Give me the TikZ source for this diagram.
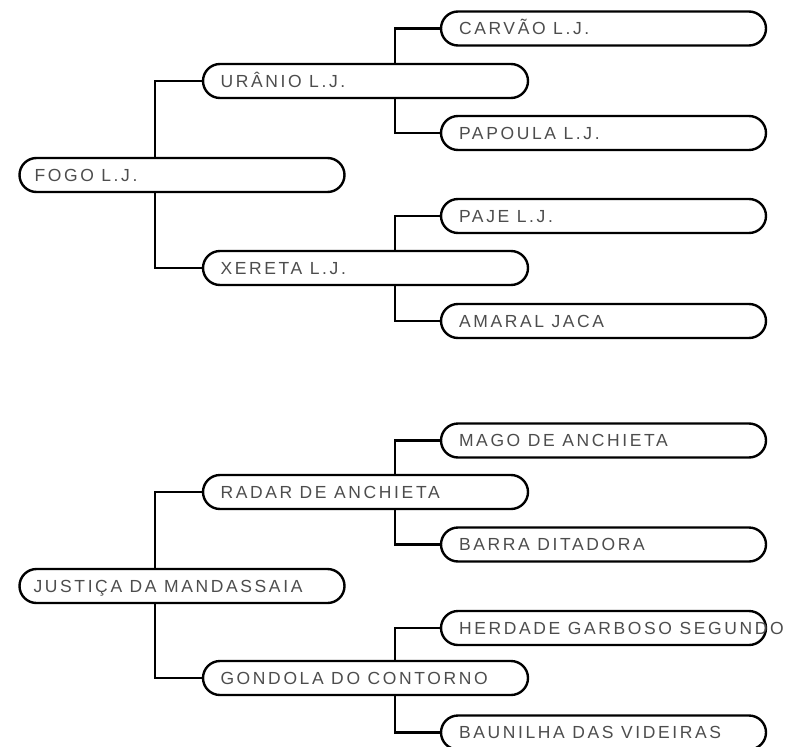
\documentclass[tikz,border=0pt]{standalone}
\usepackage{fontspec}
\newfontfamily\lblfont{Liberation Sans}[LetterSpace=15]
\definecolor{txtgray}{HTML}{4D4D4D}
\begin{document}
\begin{tikzpicture}[x=1pt,y=-1pt,
  pbox/.style={draw=black, line width=2.4pt, rectangle, rounded corners=17pt,
    minimum width=325pt, minimum height=34pt, inner sep=0pt, fill=white},
  lbl/.style={anchor=base west, inner sep=0pt, text=txtgray,
    font=\lblfont\fontsize{17.5}{21}\selectfont},
  conn/.style={draw=black, line width=2.4pt}]
\useasboundingbox (0,0) rectangle (794,746);
\coordinate (v1) at (155,0);
\coordinate (v2) at (395,0);

% top tree
\node[pbox] (fogo) at (182,175) {};
\node[pbox] (urano) at (365.5,81) {};
\node[pbox] (xereta) at (365.5,268) {};
\node[pbox] (carvao) at (603.5,28.5) {};
\node[pbox] (papoula) at (603.5,133) {};
\node[pbox] (paje) at (603.5,216) {};
\node[pbox] (amaral) at (603.5,321) {};

% bottom tree
\node[pbox] (justica) at (182,586) {};
\node[pbox] (radar) at (365.5,492) {};
\node[pbox] (gondola) at (365.5,678) {};
\node[pbox] (mago) at (603.5,440.5) {};
\node[pbox] (barra) at (603.5,544.5) {};
\node[pbox] (herdade) at (603.5,628) {};
\node[pbox] (baunilha) at (603.5,732.5) {};

% connectors
\draw[conn] (v1 |- fogo.north) |- (urano.west);
\draw[conn] (v1 |- fogo.south) |- (xereta.west);
\draw[conn] (v2 |- urano.north) |- (carvao.west);
\draw[conn] (v2 |- urano.south) |- (papoula.west);
\draw[conn] (v2 |- xereta.north) |- (paje.west);
\draw[conn] (v2 |- xereta.south) |- (amaral.west);

\draw[conn] (v1 |- justica.north) |- (radar.west);
\draw[conn] (v1 |- justica.south) |- (gondola.west);
\draw[conn] (v2 |- radar.north) |- (mago.west);
\draw[conn] (v2 |- radar.south) |- (barra.west);
\draw[conn] (v2 |- gondola.north) |- (herdade.west);
\draw[conn] (v2 |- gondola.south) |- (baunilha.west);

% labels
\node[lbl] (fogo-t) at ([xshift=16pt,yshift=-6.3pt]fogo.west) {FOGO L.J.};
\node[lbl] (urano-t) at ([xshift=18.5pt,yshift=-6.3pt]urano.west) {URÂNIO L.J.};
\node[lbl] (xereta-t) at ([xshift=18.5pt,yshift=-6.3pt]xereta.west) {XERETA L.J.};
\node[lbl] (carvao-t) at ([xshift=19pt,yshift=-6.3pt]carvao.west) {CARVÃO L.J.};
\node[lbl] (papoula-t) at ([xshift=19pt,yshift=-6.3pt]papoula.west) {PAPOULA L.J.};
\node[lbl] (paje-t) at ([xshift=19pt,yshift=-6.3pt]paje.west) {PAJE L.J.};
\node[lbl] (amaral-t) at ([xshift=19pt,yshift=-6.3pt]amaral.west) {AMARAL JACA};

\node[lbl] (justica-t) at ([xshift=15pt,yshift=-6.3pt]justica.west) {JUSTIÇA DA MANDASSAIA};
\node[lbl] (radar-t) at ([xshift=18.5pt,yshift=-6.3pt]radar.west) {RADAR DE ANCHIETA};
\node[lbl] (gondola-t) at ([xshift=18.5pt,yshift=-6.3pt]gondola.west) {GONDOLA DO CONTORNO};
\node[lbl] (mago-t) at ([xshift=19pt,yshift=-6.3pt]mago.west) {MAGO DE ANCHIETA};
\node[lbl] (barra-t) at ([xshift=19pt,yshift=-6.3pt]barra.west) {BARRA DITADORA};
\node[lbl] (herdade-t) at ([xshift=19pt,yshift=-6.3pt]herdade.west) {HERDADE GARBOSO SEGUNDO};
\node[lbl] (baunilha-t) at ([xshift=19pt,yshift=-6.3pt]baunilha.west) {BAUNILHA DAS VIDEIRAS};
\end{tikzpicture}
\end{document}
